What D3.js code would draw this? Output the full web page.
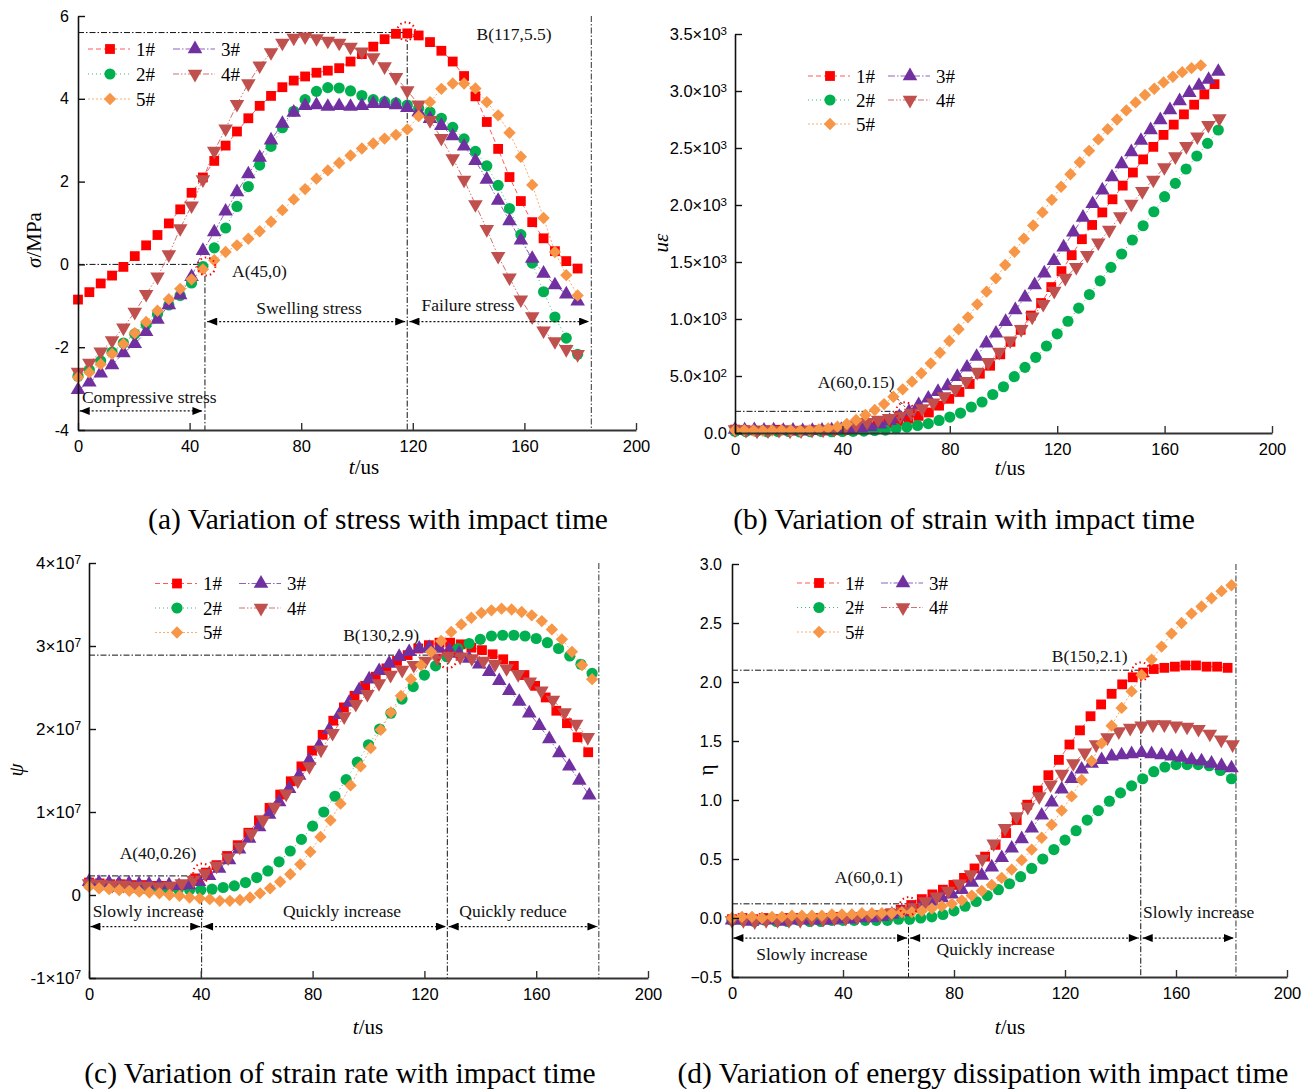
<!DOCTYPE html>
<html><head><meta charset="utf-8">
<script src="https://cdn.jsdelivr.net/npm/d3@7"></script>
<style>body{margin:0;background:#fff}svg{display:block}</style>
</head><body>
<svg id="chart" width="1312" height="1089"></svg>
<script>
// ---------------- DATA ----------------
const timeTicks = [0, 40, 80, 120, 160, 200];
const seriesLabels = ["1#", "2#", "3#", "4#", "5#"];

// (a) stress, MPa ; sampling step (us) for each specimen
const stressStep = [4.07, 4.07, 4.07, 4.07, 4.07];
const stress1 = [-0.85,-0.67,-0.46,-0.27,-0.06,0.2,0.46,0.71,0.99,1.33,1.73,2.1,2.5,2.87,3.21,3.53,3.83,4.07,4.28,4.44,4.54,4.63,4.68,4.74,4.9,5.08,5.26,5.44,5.57,5.58,5.53,5.37,5.16,4.9,4.55,4.06,3.44,2.79,2.11,1.53,1.02,0.63,0.32,0.08,-0.1];
const stress2 = [-2.7,-2.55,-2.33,-2.12,-1.9,-1.68,-1.45,-1.2,-0.98,-0.75,-0.45,-0.05,0.4,0.88,1.4,1.88,2.4,2.85,3.3,3.7,3.98,4.18,4.27,4.26,4.19,4.08,3.98,3.93,3.9,3.85,3.77,3.68,3.53,3.31,3.03,2.73,2.38,1.91,1.35,0.72,0.03,-0.66,-1.27,-1.78,-2.17];
const stress3 = [-3.03,-2.85,-2.63,-2.43,-2.14,-1.92,-1.63,-1.33,-0.98,-0.74,-0.3,0.33,0.78,1.28,1.75,2.18,2.58,3.0,3.4,3.67,3.83,3.85,3.81,3.83,3.81,3.83,3.88,3.88,3.85,3.78,3.68,3.52,3.35,3.1,2.85,2.5,2.05,1.54,1.05,0.58,0.14,-0.22,-0.5,-0.72,-0.89];
const stress4 = [-2.6,-2.38,-2.11,-1.84,-1.53,-1.15,-0.72,-0.3,0.24,0.87,1.42,2.05,2.74,3.28,3.87,4.37,4.8,5.12,5.35,5.47,5.5,5.46,5.4,5.35,5.25,5.14,5.0,4.78,4.52,4.2,3.86,3.48,3.05,2.56,2.04,1.45,0.85,0.2,-0.32,-0.85,-1.26,-1.6,-1.86,-2.05,-2.17];
const stress5 = [-2.73,-2.61,-2.41,-2.16,-1.92,-1.66,-1.39,-1.12,-0.84,-0.59,-0.36,-0.12,0.1,0.3,0.46,0.62,0.8,1.03,1.31,1.57,1.82,2.07,2.27,2.45,2.63,2.8,2.92,3.04,3.13,3.26,3.58,3.92,4.24,4.37,4.37,4.25,3.92,3.6,3.18,2.6,1.92,1.12,0.3,-0.26,-0.75];
const stressTicks = [-4, -2, 0, 2, 4, 6];

// (b) strain, microstrain
const strainStep = [3.8, 4.0, 3.6, 4.1, 3.47];
const strain1 = [30,25,22,25,28,24,20,22,25,22,24,26,35,50,65,85,105,125,150,180,240,300,360,430,520,590,690,800,905,1030,1140,1280,1420,1560,1700,1825,1935,2050,2170,2285,2400,2510,2615,2705,2795,2880,2970,3060];
const strain2 = [15,12,14,10,12,13,10,12,14,11,13,15,17,22,25,38,52,66,82,110,140,175,228,272,338,406,494,576,664,763,870,980,1095,1215,1335,1453,1570,1693,1818,1941,2073,2190,2316,2430,2541,2658];
const strain3 = [30,25,28,22,25,20,22,18,20,22,25,30,38,45,55,76,108,143,187,246,304,362,412,494,576,670,787,874,976,1079,1190,1298,1401,1510,1630,1760,1890,2010,2130,2245,2360,2465,2565,2658,2746,2833,2912,2985,3047,3100,3170];
const strain4 = [30,25,20,22,25,20,22,25,28,32,45,70,95,115,130,150,175,215,265,320,385,455,535,620,710,810,910,1020,1130,1245,1360,1455,1560,1670,1780,1900,2010,2120,2220,2330,2425,2515,2600,2700,2760];
const strain5 = [25,25,22,20,22,25,22,20,25,32,41,55,79,114,158,202,254,318,383,450,524,611,704,807,910,1015,1129,1240,1357,1474,1590,1705,1820,1935,2045,2160,2270,2375,2475,2575,2665,2750,2830,2900,2965,3020,3075,3125,3165,3200,3225];
const strainTicks = [0, 500, 1000, 1500, 2000, 2500, 3000, 3500];

// (c) strain rate, in units of 10^7
const rateStep = [3.8, 4.0, 3.58, 4.15, 3.6];
const rate1 = [0.15,0.14,0.13,0.13,0.12,0.12,0.11,0.11,0.1,0.12,0.2,0.27,0.36,0.47,0.6,0.75,0.9,1.05,1.21,1.37,1.55,1.74,1.93,2.1,2.26,2.4,2.52,2.63,2.73,2.82,2.89,2.97,3.01,3.04,3.04,3.02,2.98,2.95,2.9,2.84,2.76,2.65,2.52,2.38,2.22,2.07,1.9,1.72];
const rate2 = [0.12,0.11,0.1,0.1,0.09,0.08,0.08,0.07,0.07,0.06,0.06,0.07,0.09,0.11,0.15,0.21,0.29,0.4,0.53,0.67,0.83,1.0,1.19,1.39,1.6,1.81,2.0,2.19,2.36,2.51,2.65,2.76,2.87,2.97,3.03,3.08,3.12,3.13,3.13,3.12,3.09,3.04,2.97,2.88,2.78,2.67];
const rate3 = [0.16,0.15,0.15,0.14,0.14,0.13,0.13,0.12,0.12,0.11,0.12,0.16,0.23,0.32,0.42,0.55,0.68,0.82,0.97,1.12,1.28,1.44,1.62,1.8,1.99,2.17,2.32,2.47,2.6,2.7,2.79,2.87,2.93,2.97,2.98,2.97,2.95,2.91,2.85,2.78,2.69,2.58,2.46,2.33,2.19,2.04,1.88,1.71,1.55,1.38,1.2];
const rate4 = [0.14,0.13,0.12,0.12,0.11,0.11,0.1,0.11,0.14,0.18,0.26,0.35,0.45,0.58,0.74,0.9,1.06,1.22,1.38,1.55,1.75,1.95,2.15,2.3,2.42,2.55,2.65,2.71,2.77,2.82,2.86,2.88,2.87,2.85,2.82,2.78,2.73,2.66,2.57,2.46,2.35,2.2,2.06,1.9];
const rate5 = [0.1,0.08,0.07,0.06,0.05,0.04,0.03,0.02,0.0,-0.01,-0.03,-0.04,-0.05,-0.07,-0.07,-0.06,-0.03,0.02,0.08,0.16,0.25,0.37,0.52,0.7,0.9,1.1,1.32,1.55,1.77,1.99,2.2,2.4,2.6,2.77,2.93,3.06,3.17,3.26,3.34,3.4,3.43,3.45,3.44,3.41,3.37,3.3,3.2,3.08,2.93,2.77,2.6];
const rateTicks = [-1, 0, 1, 2, 3, 4];

// (d) energy dissipation
const energyStep = [3.8, 4.0, 3.6, 4.1, 3.6];
const energy1 = [-0.01,0,-0.01,0,-0.01,0,0,-0.01,0,0,0.01,0,0.01,0.01,0.02,0.04,0.07,0.11,0.16,0.2,0.24,0.28,0.34,0.42,0.52,0.62,0.72,0.83,0.96,1.08,1.21,1.34,1.47,1.59,1.71,1.81,1.9,1.98,2.04,2.08,2.11,2.12,2.13,2.14,2.14,2.13,2.13,2.12];
const energy2 = [-0.02,-0.02,-0.03,-0.02,-0.03,-0.03,-0.02,-0.03,-0.03,-0.02,-0.02,-0.02,-0.02,-0.02,-0.02,-0.01,-0.01,0,0.01,0.03,0.06,0.1,0.14,0.19,0.24,0.29,0.35,0.42,0.5,0.58,0.66,0.74,0.83,0.91,0.99,1.06,1.12,1.18,1.24,1.28,1.3,1.3,1.3,1.29,1.25,1.18];
const energy3 = [-0.02,-0.02,-0.03,-0.02,-0.02,-0.03,-0.02,-0.02,-0.02,-0.02,-0.02,-0.01,-0.01,0,0,0.01,0.03,0.05,0.08,0.11,0.14,0.17,0.2,0.24,0.3,0.36,0.43,0.51,0.59,0.67,0.76,0.87,0.98,1.09,1.18,1.26,1.31,1.34,1.37,1.38,1.39,1.4,1.39,1.38,1.37,1.36,1.34,1.33,1.31,1.29,1.27];
const energy4 = [-0.02,-0.02,-0.03,-0.02,-0.02,-0.02,-0.02,-0.01,-0.01,0,0,0.01,0.02,0.03,0.04,0.06,0.09,0.14,0.18,0.23,0.29,0.37,0.5,0.63,0.76,0.86,0.94,1.03,1.13,1.22,1.31,1.4,1.47,1.53,1.58,1.61,1.63,1.64,1.64,1.63,1.62,1.6,1.56,1.51,1.47];
const energy5 = [0,0.01,0.01,0,0.01,0.01,0.02,0.02,0.02,0.02,0.03,0.03,0.03,0.04,0.04,0.04,0.04,0.05,0.05,0.06,0.08,0.1,0.12,0.15,0.19,0.23,0.28,0.34,0.41,0.49,0.58,0.68,0.79,0.91,1.03,1.17,1.33,1.48,1.63,1.78,1.92,2.06,2.19,2.3,2.41,2.5,2.58,2.64,2.71,2.77,2.82];
const energyTicks = [-0.5, 0, 0.5, 1, 1.5, 2, 2.5, 3];

// ---------------- STYLE ----------------
const markColors = ["#FF0000", "#00B050", "#7030A0", "#C0504D", "#F79646"];
const lineColors = ["#FF5A5A", "#3DBF78", "#9060C0", "#CF7370", "#F9AE6E"];
const dashes = ["5,3", "1,3", "7,2,1.5,2", "6,2,1.5,2,1.5,2", "2,2"];
const symTypes = [d3.symbolSquare, d3.symbolCircle, d3.symbolTriangle, d3.symbolTriangle, d3.symbolSquare];
const symRot = [0, 0, 0, 180, 45];
const symSize = [96, 98, 92, 92, 76];
const SANS = "'Liberation Sans', Arial, sans-serif";
const SERIF = "'Liberation Serif', 'Times New Roman', serif";

const svg = d3.select("#chart");
const defs = svg.append("defs");
defs.append("marker").attr("id", "ah").attr("viewBox", "0 0 10 8").attr("refX", 10).attr("refY", 4)
  .attr("markerWidth", 11).attr("markerHeight", 8).attr("markerUnits", "userSpaceOnUse")
  .attr("orient", "auto-start-reverse")
  .append("path").attr("d", "M0,0 L10,4 L0,8 Z").attr("fill", "#000");

function symbolPath(i) { return d3.symbol().type(symTypes[i]).size(symSize[i])(); }

function supText(sel, mant, exp) {
  sel.text(null);
  sel.append("tspan").text(mant + "\u00D710");
  sel.append("tspan").attr("dy", "-0.45em").attr("font-size", "0.7em").text(exp);
}

const panels = [
  { x0: 78, x1: 636, yTop: 16, yBot: 430, yDomain: [-4, 6], yTicks: stressTicks, yPad: 9, yFont: 16,
    fmt: (s, d) => s.text(d), data: [stress1, stress2, stress3, stress4, stress5], steps: stressStep,
    legend: { x: 88, y: 49, col: 85, row: 25 },
    xTitle: { x: 364, y: 474 }, yTitle: { x: 41, y: 240, parts: [["\u03C3", true], ["/MPa", false]] },
    caption: { x: 378, y: 529, text: "(a) Variation of stress with impact time" },
    refLines: [[0, 5.6, 118, 5.6], [118, 5.6, 118, -4], [0, 0, 45.5, 0], [45.5, 0, 45.5, -4]],
    bounds: [[184, 6, 184, -4]],
    circles: [[117.6, 5.63], [46, -0.05]],
    arrows: [[0.6, -3.54, 44.6, -3.54], [46.3, -1.38, 117.3, -1.38], [118.8, -1.38, 183.2, -1.38]],
    texts: [["B(117,5.5)", 156.3, 5.42, "middle"], ["A(45,0)", 55.2, -0.31, "start"],
            ["Swelling stress", 82.8, -1.2, "middle"], ["Failure stress", 139.8, -1.13, "middle"],
            ["Compressive stress", 1.4, -3.35, "start"]],
    leaders: [] },
  { x0: 735, x1: 1272, yTop: 34, yBot: 433, yDomain: [0, 3500], yTicks: strainTicks, yPad: 8, yFont: 16.5,
    fmt: (s, d) => { if (d === 0) s.text("0.0"); else { const e = Math.floor(Math.log10(d)); supText(s, (d / Math.pow(10, e)).toFixed(1), e); } },
    data: [strain1, strain2, strain3, strain4, strain5], steps: strainStep,
    legend: { x: 808, y: 76, col: 80, row: 24 },
    xTitle: { x: 1010, y: 475 }, yTitle: { x: 668, y: 243, parts: [["u\u03B5", true]] },
    caption: { x: 964, y: 529, text: "(b) Variation of strain with impact time" },
    refLines: [[0, 190, 63.3, 190]],
    bounds: [],
    circles: [[63.3, 190]],
    arrows: [],
    texts: [["A(60,0.15)", 45.1, 395, "middle"]],
    leaders: [[57.7, 368, 63.3, 230], [63.3, 160, 63.3, 40]] },
  { x0: 89, x1: 648, yTop: 563, yBot: 978, yDomain: [-1, 4], yTicks: rateTicks, yPad: 8, yFont: 17,
    fmt: (s, d) => { if (d === 0) s.text("0"); else supText(s, String(d), 7); },
    data: [rate1, rate2, rate3, rate4, rate5], steps: rateStep,
    legend: { x: 155, y: 583.5, col: 84, row: 24.5 },
    xTitle: { x: 368, y: 1034 }, yTitle: { x: 23, y: 770, parts: [["\u03C8", true]] },
    caption: { x: 340, y: 1083, text: "(c) Variation of strain rate with impact time" },
    refLines: [[0, 0.23, 40.3, 0.23], [40.3, 0.23, 40.3, -1], [0, 2.89, 128.2, 2.89], [128.2, 2.89, 128.2, -1]],
    bounds: [[182.4, 4, 182.4, -1]],
    circles: [[40.5, 0.27], [128.3, 2.84]],
    arrows: [[0.5, -0.38, 39.8, -0.38], [40.8, -0.38, 127.7, -0.38], [128.7, -0.38, 181.9, -0.38]],
    texts: [["A(40,0.26)", 24.7, 0.43, "middle"], ["B(130,2.9)", 104.5, 3.06, "middle"],
            ["Slowly increase", 1.3, -0.27, "start"], ["Quickly increase", 90.5, -0.27, "middle"],
            ["Quickly reduce", 151.7, -0.27, "middle"]],
    leaders: [] },
  { x0: 732, x1: 1287, yTop: 564, yBot: 977, yDomain: [-0.5, 3], yTicks: energyTicks, yPad: 10, yFont: 16,
    fmt: (s, d) => s.text(d3.format(".1f")(d)),
    data: [energy1, energy2, energy3, energy4, energy5], steps: energyStep,
    legend: { x: 797, y: 583, col: 84, row: 24.5 },
    xTitle: { x: 1010, y: 1034 }, yTitle: { x: 713, y: 770, parts: [["\u03B7", false]] },
    caption: { x: 983, y: 1083, text: "(d) Variation of energy dissipation with impact time" },
    refLines: [[0, 0.12, 63.6, 0.12], [63.6, 0.12, 63.6, -0.5], [0, 2.1, 147.3, 2.1], [147.3, 2.1, 147.3, -0.5]],
    bounds: [[181.6, 3, 181.6, -0.5]],
    circles: [[63.6, 0.1], [147.4, 2.09]],
    arrows: [[0.5, -0.17, 63.1, -0.17], [64.2, -0.17, 146.6, -0.17], [148, -0.17, 180.9, -0.17]],
    texts: [["A(60,0.1)", 49.3, 0.3, "middle"], ["Slowly increase", 28.8, -0.36, "middle"],
            ["Quickly increase", 95, -0.31, "middle"], ["B(150,2.1)", 128.9, 2.17, "middle"],
            ["Slowly increase", 168.2, 0.0, "middle"]],
    leaders: [] }
];

panels.forEach(p => {
  const x = d3.scaleLinear().domain([0, 200]).range([p.x0, p.x1]);
  const y = d3.scaleLinear().domain(p.yDomain).range([p.yBot, p.yTop]);
  const g = svg.append("g");

  // reference lines (behind data)
  p.refLines.forEach(l => g.append("line")
    .attr("x1", x(l[0])).attr("y1", y(l[1])).attr("x2", x(l[2])).attr("y2", y(l[3]))
    .attr("stroke", "#111").attr("stroke-width", 1).attr("stroke-dasharray", "6,2,1.5,2"));
  p.bounds.forEach(l => g.append("line")
    .attr("x1", x(l[0])).attr("y1", y(l[1])).attr("x2", x(l[2])).attr("y2", y(l[3]))
    .attr("stroke", "#555").attr("stroke-width", 1.2).attr("stroke-dasharray", "6,2,1.5,2"));
  p.leaders.forEach(l => g.append("line")
    .attr("x1", x(l[0])).attr("y1", y(l[1])).attr("x2", x(l[2])).attr("y2", y(l[3]))
    .attr("stroke", "#111").attr("stroke-width", 1).attr("stroke-dasharray", "3,2"));

  // series
  p.data.forEach((vals, i) => {
    const pts = vals.map((v, k) => [k * p.steps[i], v]);
    g.append("path").attr("d", d3.line().x(d => x(d[0])).y(d => y(d[1]))(pts))
      .attr("fill", "none").attr("stroke", lineColors[i]).attr("stroke-width", 1)
      .attr("stroke-dasharray", dashes[i]);
  });
  p.data.forEach((vals, i) => {
    const pts = vals.map((v, k) => [k * p.steps[i], v]);
    g.append("g").selectAll("path").data(pts).join("path")
      .attr("d", symbolPath(i))
      .attr("transform", d => `translate(${x(d[0])},${y(d[1])}) rotate(${symRot[i]})`)
      .attr("fill", markColors[i]);
  });

  // axes
  const gx = g.append("g").attr("transform", `translate(0,${p.yBot})`)
    .call(d3.axisBottom(x).tickValues(timeTicks).tickSizeInner(-7).tickSizeOuter(0).tickPadding(10));
  const gy = g.append("g").attr("transform", `translate(${p.x0},0)`)
    .call(d3.axisLeft(y).tickValues(p.yTicks).tickSizeInner(-7).tickSizeOuter(0).tickPadding(p.yPad).tickFormat(""));
  gx.select(".domain").attr("stroke", "#333").attr("stroke-width", 2);
  gy.select(".domain").attr("stroke", "#111").attr("stroke-width", 1.6);
  gx.selectAll(".tick line").attr("stroke", "#333").attr("stroke-width", 1.4);
  gy.selectAll(".tick line").attr("stroke", "#111").attr("stroke-width", 1.4);
  gx.selectAll("text").attr("font-family", SANS).attr("font-size", 16.5).attr("fill", "#000");
  gy.selectAll(".tick text").each(function (d) { p.fmt(d3.select(this), d); })
    .attr("font-family", SANS).attr("font-size", p.yFont).attr("fill", "#000");

  // axis titles
  const xt = g.append("text").attr("x", p.xTitle.x).attr("y", p.xTitle.y).attr("text-anchor", "middle")
    .attr("font-family", SERIF).attr("font-size", 21);
  xt.append("tspan").attr("font-style", "italic").text("t");
  xt.append("tspan").text("/us");
  const yt = g.append("text").attr("transform", `translate(${p.yTitle.x},${p.yTitle.y}) rotate(-90)`)
    .attr("text-anchor", "middle").attr("font-family", SERIF).attr("font-size", 21);
  p.yTitle.parts.forEach(pt => yt.append("tspan").attr("font-style", pt[1] ? "italic" : "normal").text(pt[0]));

  // annotation texts
  p.texts.forEach(t => g.append("text").attr("x", x(t[1])).attr("y", y(t[2])).attr("text-anchor", t[3])
    .attr("font-family", SERIF).attr("font-size", 17.5).attr("fill", "#111").text(t[0]));

  // arrows
  p.arrows.forEach(a => g.append("line")
    .attr("x1", x(a[0])).attr("y1", y(a[1])).attr("x2", x(a[2])).attr("y2", y(a[3]))
    .attr("stroke", "#111").attr("stroke-width", 1.2).attr("stroke-dasharray", "2,2")
    .attr("marker-start", "url(#ah)").attr("marker-end", "url(#ah)"));

  // highlight circles
  p.circles.forEach(c => g.append("circle").attr("cx", x(c[0])).attr("cy", y(c[1])).attr("r", 9)
    .attr("fill", "none").attr("stroke", "#FF0000").attr("stroke-width", 2).attr("stroke-dasharray", "1.5,3"));

  // legend
  const L = p.legend;
  const order = [[0, 0, 0], [1, 0, 1], [2, 1, 0], [3, 1, 1], [4, 0, 2]];
  order.forEach(([i, c, r]) => {
    const lx = L.x + c * L.col, ly = L.y + r * L.row;
    g.append("line").attr("x1", lx).attr("x2", lx + 42).attr("y1", ly).attr("y2", ly)
      .attr("stroke", lineColors[i]).attr("stroke-width", 1.2).attr("stroke-dasharray", dashes[i]);
    g.append("path").attr("d", symbolPath(i)).attr("transform", `translate(${lx + 22},${ly}) rotate(${symRot[i]})`)
      .attr("fill", markColors[i]);
    g.append("text").attr("x", lx + 48).attr("y", ly + 6.5).attr("font-family", SERIF).attr("font-size", 19)
      .text(seriesLabels[i]);
  });

  // caption
  svg.append("text").attr("x", p.caption.x).attr("y", p.caption.y).attr("text-anchor", "middle")
    .attr("font-family", SERIF).attr("font-size", 29.5).attr("fill", "#000").text(p.caption.text);
});
</script>
</body></html>
